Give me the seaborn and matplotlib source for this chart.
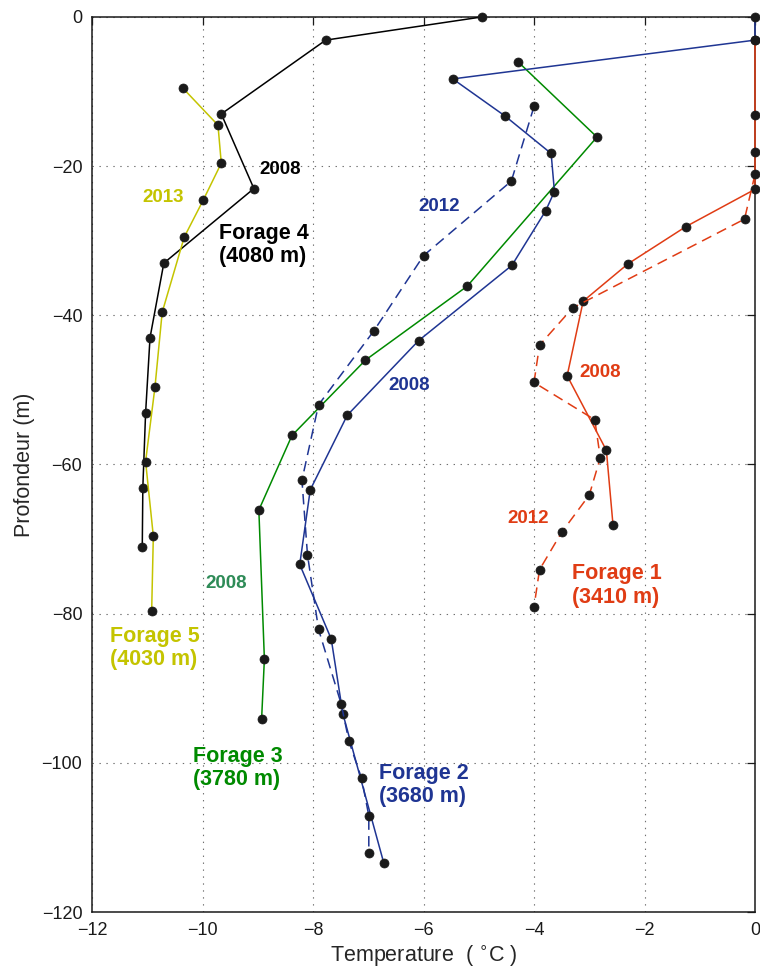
import matplotlib
matplotlib.use("Agg")
import matplotlib.pyplot as plt
import seaborn as sns
import numpy as np

# ---------------- data ----------------
# Forage 1 (3410 m) - red
f1_2008_T = [0.0, 0.0, 0.0, 0.0, -1.25, -2.30, -3.11, -3.40, -2.69, -2.57]
f1_2008_D = [-3.1, -13.1, -18.1, -23.1, -28.1, -33.1, -38.1, -48.1, -58.1, -68.1]
f1_2012_T = [0.0, -0.19, -3.30, -3.90, -4.00, -2.90, -2.80, -3.00, -3.50, -3.90, -4.00]
f1_2012_D = [-21.1, -27.1, -39.0, -44.0, -49.0, -54.0, -59.1, -64.1, -69.1, -74.1, -79.1]

# Forage 2 (3680 m) - blue
f2_2008_T = [0.0, 0.0, -5.47, -4.52, -3.69, -3.63, -3.79, -4.40, -6.09, -7.38,
             -8.05, -8.24, -7.67, -7.46, -6.72]
f2_2008_D = [0.0, -3.1, -8.3, -13.3, -18.3, -23.4, -26.0, -33.3, -43.4, -53.4,
             -63.4, -73.4, -83.4, -93.4, -113.4]
f2_2012_T = [-4.00, -4.41, -6.00, -6.90, -7.90, -8.20, -8.10, -7.90, -7.49,
             -7.35, -7.12, -6.99, -6.99]
f2_2012_D = [-12.0, -22.0, -32.0, -42.1, -52.0, -62.1, -72.1, -82.1, -92.1,
             -97.1, -102.1, -107.1, -112.1]

# Forage 3 (3780 m) - green
f3_2008_T = [-4.29, -2.86, -5.21, -7.05, -8.38, -8.98, -8.88, -8.93]
f3_2008_D = [-6.0, -16.1, -36.1, -46.0, -56.1, -66.1, -86.1, -94.1]

# Forage 4 (4080 m) - black
f4_2008_T = [-4.95, -7.77, -9.66, -9.07, -10.70, -10.95, -11.03, -11.08, -11.09]
f4_2008_D = [0.0, -3.1, -13.0, -23.0, -33.0, -43.0, -53.1, -63.1, -71.0]

# Forage 5 (4030 m) - yellow
f5_2013_T = [-10.36, -9.72, -9.66, -9.99, -10.33, -10.73, -10.86, -11.03, -10.89, -10.92]
f5_2013_D = [-9.5, -14.5, -19.6, -24.6, -29.5, -39.6, -49.6, -59.6, -69.6, -79.6]

x_ticks = [-12, -10, -8, -6, -4, -2, 0]
y_ticks = [-120, -100, -80, -60, -40, -20, 0]

# ---------------- style ----------------
RED = "#e03c14"
BLUE = "#1f3593"
GREEN = "#008a00"
GREEN_LBL = "#2e8b57"
YELLOW = "#c4c400"
BLACK = "#000000"

sns.set_theme(style="white")
plt.rcParams["font.family"] = ["Liberation Sans", "DejaVu Sans"]
plt.rcParams["axes.unicode_minus"] = True
plt.rcParams["lines.scale_dashes"] = False

fig = plt.figure(figsize=(7.6, 9.72), dpi=100)
ax = fig.add_axes([92 / 760, 1 - 912 / 972, 663 / 760, 895 / 972])

LW = 1.1
MS = 6.5
dash = (0, (7.5, 4.5))

series = [
    (f4_2008_T, f4_2008_D, BLACK, "-"),
    (f5_2013_T, f5_2013_D, YELLOW, "-"),
    (f3_2008_T, f3_2008_D, GREEN, "-"),
    (f2_2008_T, f2_2008_D, BLUE, "-"),
    (f2_2012_T, f2_2012_D, BLUE, dash),
    (f1_2008_T, f1_2008_D, RED, "-"),
    (f1_2012_T, f1_2012_D, RED, dash),
]
for T, D, c, ls in series:
    sns.lineplot(x=T, y=D, sort=False, estimator=None, ax=ax, color=c,
                 linewidth=LW, linestyle=ls, marker="o", markersize=MS,
                 markerfacecolor="k", markeredgecolor="k", markeredgewidth=0.5,
                 clip_on=False, zorder=3)

ax.set_xlim(-12, 0)
ax.set_ylim(-120, 0)
ax.set_xticks(x_ticks)
ax.set_yticks(y_ticks)
ax.set_xticklabels([("\u2212" + str(abs(v))) if v < 0 else str(v) for v in x_ticks])
ax.set_yticklabels([("\u2212" + str(abs(v))) if v < 0 else str(v) for v in y_ticks])
ax.grid(True, linestyle=(0, (1, 4)), color="#707070", linewidth=0.8)
ax.tick_params(direction="in", length=6, width=0.9, top=True, right=True,
               labelsize=13, pad=7, colors="k")
for s in ax.spines.values():
    s.set_color("k")
    s.set_linewidth(1.1)

ax.set_xlabel("Temperature  ( $^{\\circ}$C )", fontsize=15.5, labelpad=4)
ax.set_ylabel("Profondeur (m)", fontsize=15.5, labelpad=5)

# ---------------- annotations ----------------
yr = dict(fontsize=13.5, fontweight="bold", ha="left", va="center")
big = dict(fontsize=15.5, fontweight="bold", ha="left", va="center", linespacing=1.15)

ax.text(-8.97, -20.5, "2008", color=BLACK, **yr)
ax.text(-9.71, -30.6, "Forage 4\n(4080 m)", color=BLACK, **big)
ax.text(-11.09, -24.2, "2013", color=YELLOW, **yr)
ax.text(-11.67, -84.6, "Forage 5\n(4030 m)", color=YELLOW, **big)
ax.text(-6.09, -25.4, "2012", color=BLUE, **yr)
ax.text(-6.64, -49.4, "2008", color=BLUE, **yr)
ax.text(-9.94, -76.0, "2008", color=GREEN_LBL, **yr)
ax.text(-10.18, -100.7, "Forage 3\n(3780 m)", color=GREEN, **big)
ax.text(-6.81, -103.0, "Forage 2\n(3680 m)", color=BLUE, **big)
ax.text(-3.18, -47.6, "2008", color=RED, **yr)
ax.text(-4.49, -67.2, "2012", color=RED, **yr)
ax.text(-3.31, -76.2, "Forage 1\n(3410 m)", color=RED, **big)

fig.savefig("out.png", dpi=100)
